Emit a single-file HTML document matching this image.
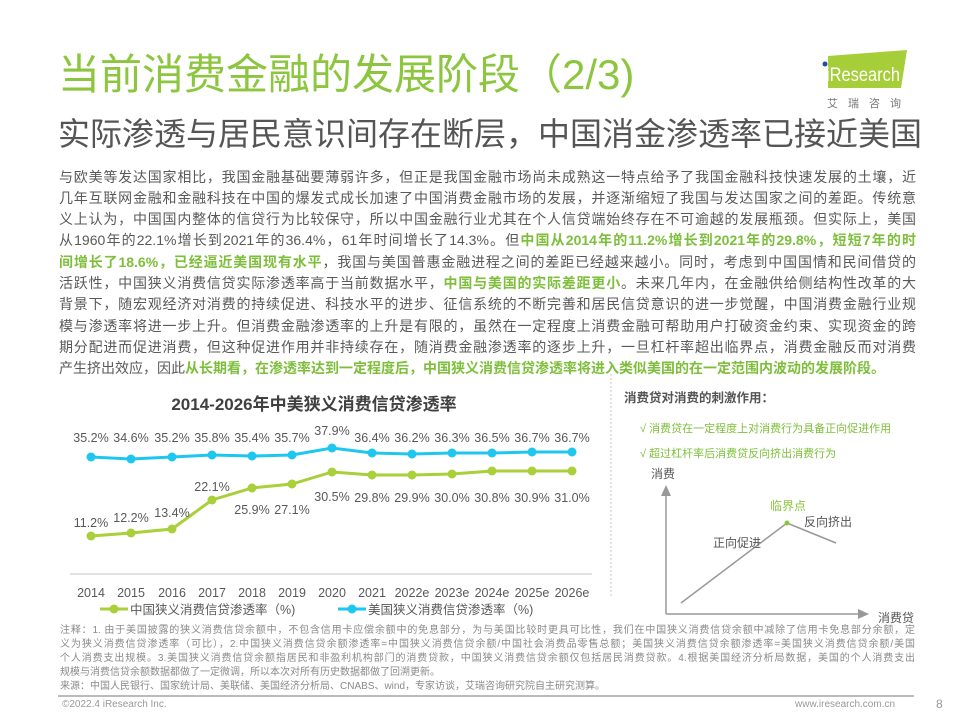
<!DOCTYPE html>
<html><head><meta charset="utf-8"><style>
*{margin:0;padding:0;box-sizing:border-box}
body{width:960px;height:720px;background:#fff;position:relative;overflow:hidden;font-family:"Liberation Sans","Noto Sans CJK SC",sans-serif;color:#595959}
.a{position:absolute;white-space:nowrap}
.ln{position:absolute;left:59px;width:857px;font-size:14px;text-align:justify;text-align-last:justify;white-space:nowrap;height:20px;line-height:20px}
.g{color:#7dbf3a;font-weight:bold}
.nt{position:absolute;left:60px;width:855px;font-size:10px;color:#8a8a8a;text-align:justify;text-align-last:justify;white-space:nowrap;line-height:14px}
</style></head><body>
<div class="a" style="left:58px;top:50px;font-size:42px;color:#8cc63f;line-height:50px">当前消费金融的发展阶段（2/3)</div>
<div class="a" style="left:58px;top:113px;font-size:32px;color:#555;line-height:42px">实际渗透与居民意识间存在断层，中国消金渗透率已接近美国</div>
<svg class="a" style="left:815px;top:50px" width="95" height="62">
<polygon points="13,6 92,0 86,38 13,38" fill="#a6ce39"/>
<circle cx="10" cy="14" r="2.5" fill="#1f4e9c"/>
<text x="11" y="31" font-size="19" fill="#fff" font-family="Liberation Sans" textLength="74" lengthAdjust="spacingAndGlyphs">iResearch</text>
<text x="12" y="57" font-size="11" fill="#777" letter-spacing="10" font-family="Noto Sans CJK SC">艾瑞咨询</text>
</svg>
<div class="ln" style="top:167px">与欧美等发达国家相比，我国金融基础要薄弱许多，但正是我国金融市场尚未成熟这一特点给予了我国金融科技快速发展的土壤，近</div>
<div class="ln" style="top:188px">几年互联网金融和金融科技在中国的爆发式成长加速了中国消费金融市场的发展，并逐渐缩短了我国与发达国家之间的差距。传统意</div>
<div class="ln" style="top:209px">义上认为，中国国内整体的信贷行为比较保守，所以中国金融行业尤其在个人信贷端始终存在不可逾越的发展瓶颈。但实际上，美国</div>
<div class="ln" style="top:230px">从1960年的22.1%增长到2021年的36.4%，61年时间增长了14.3%。但<span class="g">中国从2014年的11.2%增长到2021年的29.8%，短短7年的时</span></div>
<div class="ln" style="top:252px"><span class="g">间增长了18.6%，已经逼近美国现有水平</span>，我国与美国普惠金融进程之间的差距已经越来越小。同时，考虑到中国国情和民间借贷的</div>
<div class="ln" style="top:273px">活跃性，中国狭义消费信贷实际渗透率高于当前数据水平，<span class="g">中国与美国的实际差距更小</span>。未来几年内，在金融供给侧结构性改革的大</div>
<div class="ln" style="top:294px">背景下，随宏观经济对消费的持续促进、科技水平的进步、征信系统的不断完善和居民信贷意识的进一步觉醒，中国消费金融行业规</div>
<div class="ln" style="top:316px">模与渗透率将进一步上升。但消费金融渗透率的上升是有限的，虽然在一定程度上消费金融可帮助用户打破资金约束、实现资金的跨</div>
<div class="ln" style="top:337px">期分配进而促进消费，但这种促进作用并非持续存在，随消费金融渗透率的逐步上升，一旦杠杆率超出临界点，消费金融反而对消费</div>
<div class="ln" style="top:358px;text-align-last:left">产生挤出效应，因此<span class="g">从长期看，在渗透率达到一定程度后，中国狭义消费信贷渗透率将进入类似美国的在一定范围内波动的发展阶段。</span></div>

<svg class="a" style="left:0;top:0" width="960" height="720" font-family="Liberation Sans,Noto Sans CJK SC,sans-serif">
<text x="314" y="410" font-size="17" font-weight="bold" fill="#404040" text-anchor="middle">2014-2026年中美狭义消费信贷渗透率</text>
<line x1="70" y1="574" x2="592" y2="574" stroke="#d9d9d9" stroke-width="1.5"/>
<polyline fill="none" stroke="#1ec6f0" stroke-width="3" points="91,457 131,459 172,457 212,455 252,456 292,455 332,448 372,453 412,454 452,453 492,453 532,452 572,452"/>
<polyline fill="none" stroke="#a9cf3a" stroke-width="3" points="91,536 131,533 172,529 212,500 252,488 292,484 332,472 372,475 412,475 452,474 492,471 532,471 572,471"/>
<g fill="#1ec6f0"><circle cx="91" cy="457" r="4.5"/><circle cx="131" cy="459" r="4.5"/><circle cx="172" cy="457" r="4.5"/><circle cx="212" cy="455" r="4.5"/><circle cx="252" cy="456" r="4.5"/><circle cx="292" cy="455" r="4.5"/><circle cx="332" cy="448" r="4.5"/><circle cx="372" cy="453" r="4.5"/><circle cx="412" cy="454" r="4.5"/><circle cx="452" cy="453" r="4.5"/><circle cx="492" cy="453" r="4.5"/><circle cx="532" cy="452" r="4.5"/><circle cx="572" cy="452" r="4.5"/></g>
<g fill="#a9cf3a"><circle cx="91" cy="536" r="4.5"/><circle cx="131" cy="533" r="4.5"/><circle cx="172" cy="529" r="4.5"/><circle cx="212" cy="500" r="4.5"/><circle cx="252" cy="488" r="4.5"/><circle cx="292" cy="484" r="4.5"/><circle cx="332" cy="472" r="4.5"/><circle cx="372" cy="475" r="4.5"/><circle cx="412" cy="475" r="4.5"/><circle cx="452" cy="474" r="4.5"/><circle cx="492" cy="471" r="4.5"/><circle cx="532" cy="471" r="4.5"/><circle cx="572" cy="471" r="4.5"/></g>
<g font-size="12.5" fill="#595959" text-anchor="middle">
<text x="91" y="442">35.2%</text><text x="131" y="442">34.6%</text><text x="172" y="442">35.2%</text><text x="212" y="442">35.8%</text><text x="252" y="442">35.4%</text><text x="292" y="442">35.7%</text><text x="332" y="435">37.9%</text><text x="372" y="442">36.4%</text><text x="412" y="442">36.2%</text><text x="452" y="442">36.3%</text><text x="492" y="442">36.5%</text><text x="532" y="442">36.7%</text><text x="572" y="442">36.7%</text>
<text x="91" y="527">11.2%</text><text x="131" y="522">12.2%</text><text x="172" y="517">13.4%</text><text x="212" y="491">22.1%</text><text x="252" y="514">25.9%</text><text x="292" y="514">27.1%</text><text x="332" y="501">30.5%</text><text x="372" y="502">29.8%</text><text x="412" y="502">29.9%</text><text x="452" y="502">30.0%</text><text x="492" y="502">30.8%</text><text x="532" y="502">30.9%</text><text x="572" y="502">31.0%</text>
<text x="91" y="597">2014</text><text x="131" y="597">2015</text><text x="172" y="597">2016</text><text x="212" y="597">2017</text><text x="252" y="597">2018</text><text x="292" y="597">2019</text><text x="332" y="597">2020</text><text x="372" y="597">2021</text><text x="412" y="597">2022e</text><text x="452" y="597">2023e</text><text x="492" y="597">2024e</text><text x="532" y="597">2025e</text><text x="572" y="597">2026e</text>
</g>
<line x1="100" y1="609" x2="128" y2="609" stroke="#a9cf3a" stroke-width="3"/><circle cx="114" cy="609" r="4.5" fill="#a9cf3a"/>
<text x="130" y="614" font-size="12.5" fill="#595959">中国狭义消费信贷渗透率（%)</text>
<line x1="338" y1="609" x2="366" y2="609" stroke="#1ec6f0" stroke-width="3"/><circle cx="352" cy="609" r="4.5" fill="#1ec6f0"/>
<text x="368" y="614" font-size="12.5" fill="#595959">美国狭义消费信贷渗透率（%)</text>
<line x1="611" y1="374" x2="611" y2="598" stroke="#c8c8c8" stroke-dasharray="2,2"/>
<text x="624" y="402" font-size="12.5" font-weight="bold" fill="#555">消费贷对消费的刺激作用：</text>
<text x="640" y="432" font-size="11" fill="#7dbf3a">√ 消费贷在一定程度上对消费行为具备正向促进作用</text>
<text x="640" y="457" font-size="11" fill="#7dbf3a">√ 超过杠杆率后消费贷反向挤出消费行为</text>
<line x1="666" y1="614" x2="666" y2="494" stroke="#999" stroke-width="1.5"/><polygon points="661,496 671,496 666,485" fill="#999"/>
<line x1="666" y1="614" x2="860" y2="614" stroke="#999" stroke-width="1.5"/><polygon points="858,609 858,619 869,614" fill="#999"/>
<polyline fill="none" stroke="#999" stroke-width="1.5" points="681,603 787,523 836,543"/>
<circle cx="787" cy="523" r="2.5" fill="#8cc63f"/>
<g font-size="12" fill="#555"><text x="651" y="478">消费</text><text x="713" y="547">正向促进</text><text x="804" y="526">反向挤出</text><text x="878" y="622">消费贷</text></g>
<text x="770" y="510" font-size="12" fill="#8cc63f">临界点</text>
</svg>
<div class="nt" style="top:624px">注释：1. 由于美国披露的狭义消费信贷余额中，不包含信用卡应偿余额中的免息部分，为与美国比较时更具可比性，我们在中国狭义消费信贷余额中减除了信用卡免息部分余额，定</div>
<div class="nt" style="top:638px">义为狭义消费信贷渗透率（可比），2.中国狭义消费信贷余额渗透率=中国狭义消费信贷余额/中国社会消费品零售总额；美国狭义消费信贷余额渗透率=美国狭义消费信贷余额/美国</div>
<div class="nt" style="top:652px">个人消费支出规模。3.美国狭义消费信贷余额指居民和非盈利机构部门的消费贷款，中国狭义消费信贷余额仅包括居民消费贷款。4.根据美国经济分析局数据，美国的个人消费支出</div>
<div class="nt" style="top:666px;text-align-last:left">规模与消费信贷余额数据都做了一定微调，所以本次对所有历史数据都做了回溯更新。</div>
<div class="nt" style="top:680px;text-align-last:left">来源：中国人民银行、国家统计局、美联储、美国经济分析局、CNABS、wind，专家访谈，艾瑞咨询研究院自主研究测算。</div>
<div class="a" style="left:58px;top:695px;width:856px;height:2px;background:#bbb"></div>
<div class="a" style="left:62px;top:699px;font-size:10px;color:#999">©2022.4 iResearch Inc.</div>
<div class="a" style="left:795px;top:699px;font-size:10px;color:#999">www.iresearch.com.cn</div>
<div class="a" style="left:936px;top:697px;font-size:12px;color:#999">8</div>
</body></html>
